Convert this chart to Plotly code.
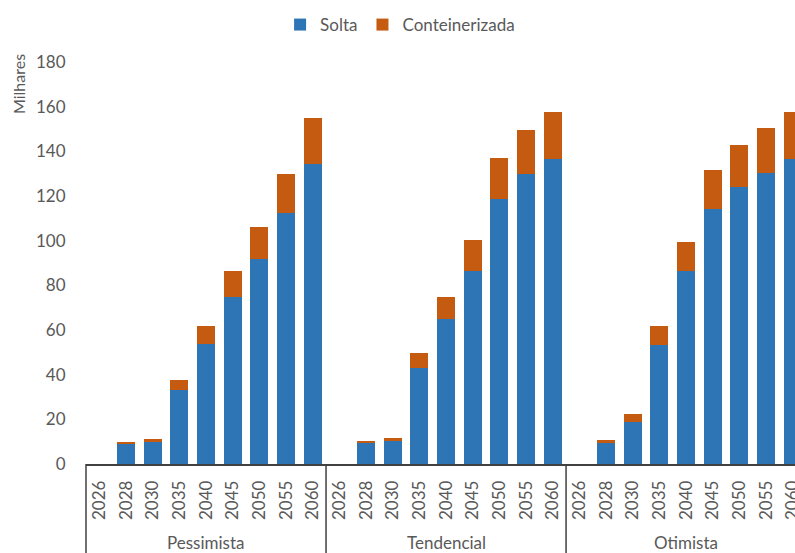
import plotly.graph_objects as go

# Categories
scenarios = ["Pessimista", "Tendencial", "Otimista"]
years = ["2026", "2028", "2030", "2035", "2040", "2045", "2050", "2055", "2060"]

# Series values (milhares)
solta = {
    "Pessimista": [0, 9.0, 9.8, 33.2, 53.8, 75.0, 91.8, 112.4, 134.4],
    "Tendencial": [0, 9.3, 10.4, 42.9, 65.0, 86.2, 118.7, 130.0, 136.6],
    "Otimista":   [0, 9.3, 19.0, 53.4, 86.2, 114.3, 124.1, 130.4, 136.6],
}
conteinerizada = {
    "Pessimista": [0, 1.0, 1.3, 4.5, 8.1, 11.2, 14.3, 17.3, 20.6],
    "Tendencial": [0, 1.2, 1.3, 7.0, 9.7, 13.9, 18.4, 19.5, 21.2],
    "Otimista":   [0, 1.5, 3.4, 8.5, 13.2, 17.2, 18.9, 20.1, 21.2],
}

BLUE = "#2E75B6"
ORANGE = "#C55A11"
TEXT = "#595959"
FONT = "Lato"

n = len(years)
xpos, xtext, y_solta, y_cont = [], [], [], []
for g, sc in enumerate(scenarios):
    for i, yr in enumerate(years):
        xpos.append(g * n + i)
        xtext.append(yr)
        y_solta.append(solta[sc][i])
        y_cont.append(conteinerizada[sc][i])

fig = go.Figure()
fig.add_trace(go.Bar(x=xpos, y=y_solta, name="Solta", marker_color=BLUE,
                     width=0.675, marker_line_width=0))
fig.add_trace(go.Bar(x=xpos, y=y_cont, name="Conteinerizada", marker_color=ORANGE,
                     width=0.675, marker_line_width=0))

W, H = 795, 553
ml, mr, mt, mb = 86, 0, 62, 89
x_min = -0.5
x_max = x_min + (W - ml - mr) / 26.67


def to_paper(x):
    return (x - x_min) / (x_max - x_min)


shapes = []
annotations = []
for g, sc in enumerate(scenarios):
    left = g * n - 0.5
    shapes.append(dict(type="line", xref="paper", yref="paper",
                       x0=to_paper(left), x1=to_paper(left), y0=0, y1=-0.5,
                       line=dict(color="#404040", width=1.5)))
    center = g * n + (n - 1) / 2
    annotations.append(dict(text=sc, x=center, xref="x", y=-0.196, yref="paper",
                            showarrow=False, yanchor="middle",
                            font=dict(family=FONT, size=17, color=TEXT)))

annotations.append(dict(text="Milhares", x=-0.096, xref="paper", y=0.945, yref="paper",
                        showarrow=False, textangle=-90, xanchor="center", yanchor="middle",
                        font=dict(family=FONT, size=16, color=TEXT)))

fig.update_layout(
    width=W, height=H,
    margin=dict(l=ml, r=mr, t=mt, b=mb, autoexpand=False),
    barmode="stack",
    bargap=0,
    plot_bgcolor="white",
    paper_bgcolor="white",
    font=dict(family=FONT, size=17, color=TEXT),
    showlegend=True,
    legend=dict(orientation="h", x=0.443, xanchor="center", y=1.092, yanchor="middle",
                font=dict(family=FONT, size=17, color=TEXT), traceorder="normal",
                itemwidth=30),
    shapes=shapes,
    annotations=annotations,
    xaxis=dict(range=[x_min, x_max], tickmode="array", tickvals=xpos, ticktext=xtext,
               tickangle=-90, showgrid=False, zeroline=False, showline=True,
               linecolor="#404040", linewidth=1.5, ticks="outside", ticklen=8,
               tickcolor="rgba(0,0,0,0)", ticklabeloverflow="allow", automargin=False,
               tickfont=dict(family=FONT, size=17, color=TEXT)),
    yaxis=dict(range=[0, 180], dtick=20, showgrid=False, zeroline=False, showline=False,
               ticks="outside", ticklen=16, tickcolor="rgba(0,0,0,0)", automargin=False,
               tickfont=dict(family=FONT, size=17, color=TEXT)),
)

fig.write_html("out.html")
